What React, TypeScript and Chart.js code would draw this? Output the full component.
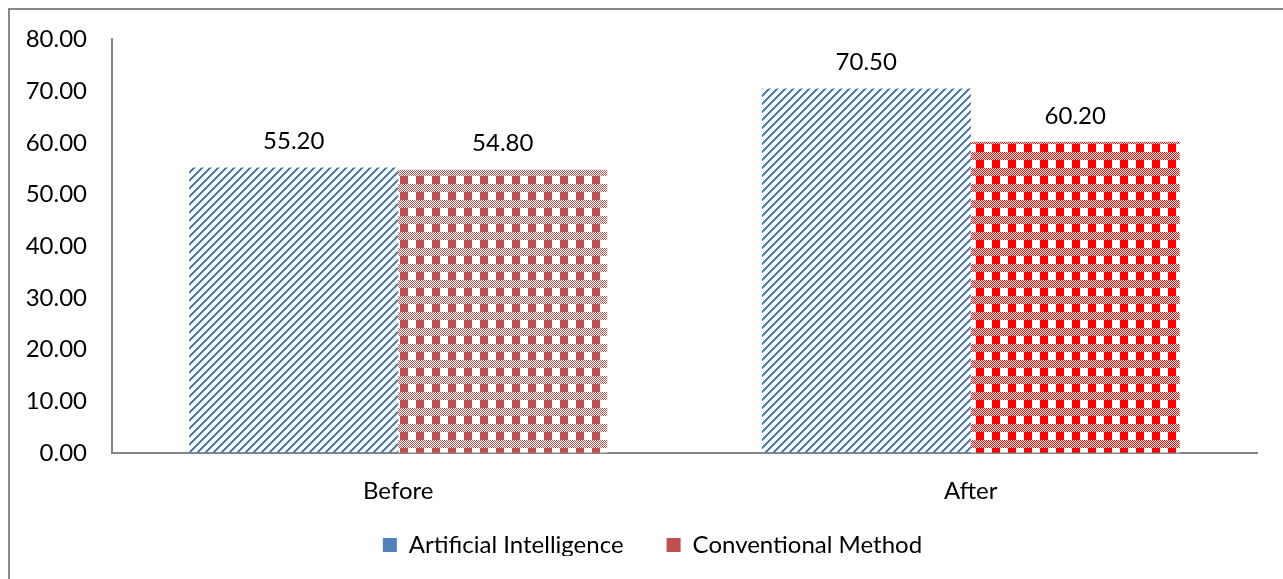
import { useEffect, useRef } from 'react';
import { Chart, registerables } from 'chart.js';

Chart.register(...registerables);

const categories = ['Before', 'After'];
const seriesNames = ['Artificial Intelligence', 'Conventional Method'];
const aiValues = [55.2, 70.5];
const conventionalValues = [54.8, 60.2];
const yTickValues = [0, 10, 20, 30, 40, 50, 60, 70, 80];

const BLUE = '#4F81BD';
const RED_MUTED = '#C0504D';
const RED_BRIGHT = '#FF0000';
const FONT = 'Lato, "Open Sans", sans-serif';
const FONT_SIZE = 24;
const AXIS_GRAY = '#868686';

function makeStripe(ctx: CanvasRenderingContext2D, color: string) {
  const c = document.createElement('canvas');
  c.width = 8;
  c.height = 8;
  const g = c.getContext('2d')!;
  g.fillStyle = color;
  for (let y = 0; y < 8; y++) {
    for (let x = 0; x < 8; x++) {
      if ((x + y) % 8 < 3) g.fillRect(x, y, 1, 1);
    }
  }
  return ctx.createPattern(c, 'repeat')!;
}

function makePlaid(ctx: CanvasRenderingContext2D, color: string) {
  const c = document.createElement('canvas');
  c.width = 16;
  c.height = 16;
  const g = c.getContext('2d')!;
  g.fillStyle = '#ffffff';
  g.fillRect(0, 0, 16, 16);
  g.fillStyle = color;
  g.fillRect(0, 0, 8, 8);
  for (let y = 8; y < 16; y++) {
    for (let x = 0; x < 16; x++) {
      if ((x + y) % 2 === 0) g.fillRect(x, y, 1, 1);
    }
  }
  return ctx.createPattern(c, 'repeat')!;
}

const valueLabels = {
  id: 'valueLabels',
  afterDatasetsDraw(chart: any) {
    const ctx = chart.ctx;
    ctx.save();
    ctx.font = `${FONT_SIZE}px ${FONT}`;
    ctx.fillStyle = '#000';
    ctx.textAlign = 'center';
    ctx.textBaseline = 'middle';
    chart.data.datasets.forEach((ds: any, di: number) => {
      const meta = chart.getDatasetMeta(di);
      meta.data.forEach((el: any, i: number) => {
        ctx.fillText(Number(ds.data[i]).toFixed(2), el.x, el.y - 26);
      });
    });
    ctx.restore();
  },
};

const legendOffset = {
  id: 'legendOffset',
  afterLayout(chart: any) {
    const l = chart.legend;
    if (!l) return;
    l.left += 24;
    l.right += 24;
    l.top -= 23;
    l.bottom -= 23;
  },
};

export default function App() {
  const ref = useRef<HTMLCanvasElement>(null);
  useEffect(() => {
    const canvas = ref.current!;
    const ctx = canvas.getContext('2d')!;
    const blueStripe = makeStripe(ctx, BLUE);
    const plaidMuted = makePlaid(ctx, RED_MUTED);
    const plaidBright = makePlaid(ctx, RED_BRIGHT);
    const chart = new Chart(canvas, {
      type: 'bar',
      data: {
        labels: categories,
        datasets: [
          {
            label: seriesNames[0],
            data: aiValues,
            backgroundColor: [blueStripe, blueStripe],
            borderWidth: 0,
            categoryPercentage: 0.73,
            barPercentage: 1,
          },
          {
            label: seriesNames[1],
            data: conventionalValues,
            backgroundColor: [plaidMuted, plaidBright],
            borderWidth: 0,
            categoryPercentage: 0.73,
            barPercentage: 1,
          },
        ],
      },
      options: {
        responsive: false,
        animation: false,
        devicePixelRatio: 1,
        layout: { padding: { left: 0, right: 26, top: 38, bottom: 0 } },
        plugins: {
          tooltip: { enabled: false },
          legend: {
            position: 'bottom',
            maxHeight: 66,
            labels: {
              font: { family: FONT, size: FONT_SIZE },
              color: '#000',
              boxWidth: 14,
              boxHeight: 14,
              padding: 43,
              generateLabels: () => [
                { text: seriesNames[0], fillStyle: BLUE, strokeStyle: BLUE, lineWidth: 0, datasetIndex: 0 },
                { text: seriesNames[1], fillStyle: RED_MUTED, strokeStyle: RED_MUTED, lineWidth: 0, datasetIndex: 1 },
              ],
            },
          },
        },
        scales: {
          x: {
            grid: { display: true, drawOnChartArea: false, drawTicks: false },
            border: { display: true, color: AXIS_GRAY, width: 2 },
            ticks: { font: { family: FONT, size: FONT_SIZE }, color: '#000', padding: 24 },
            afterFit: (s: any) => { s.height = 60; },
          },
          y: {
            min: 0,
            max: 80,
            grid: { display: true, drawOnChartArea: false, drawTicks: false },
            border: { display: true, color: AXIS_GRAY, width: 2 },
            afterBuildTicks: (s: any) => { s.ticks = yTickValues.map((v) => ({ value: v })); },
            ticks: {
              font: { family: FONT, size: FONT_SIZE },
              color: '#000',
              padding: 25,
              callback: (v: any) => Number(v).toFixed(2),
            },
            afterFit: (s: any) => { s.width = 112; },
          },
        },
      },
      plugins: [valueLabels, legendOffset],
    });
    return () => chart.destroy();
  }, []);
  return (
    <>
      <div style={{ position: 'fixed', left: 0, top: 0, width: 1283, height: 579, background: '#fff' }}>
        <canvas ref={ref} width={1283} height={579} style={{ display: 'block' }} />
      </div>
      <div
        style={{
          position: 'fixed',
          left: 8,
          top: 8,
          width: 1320,
          height: 620,
          border: '2px solid #888',
          pointerEvents: 'none',
        }}
      />
    </>
  );
}
